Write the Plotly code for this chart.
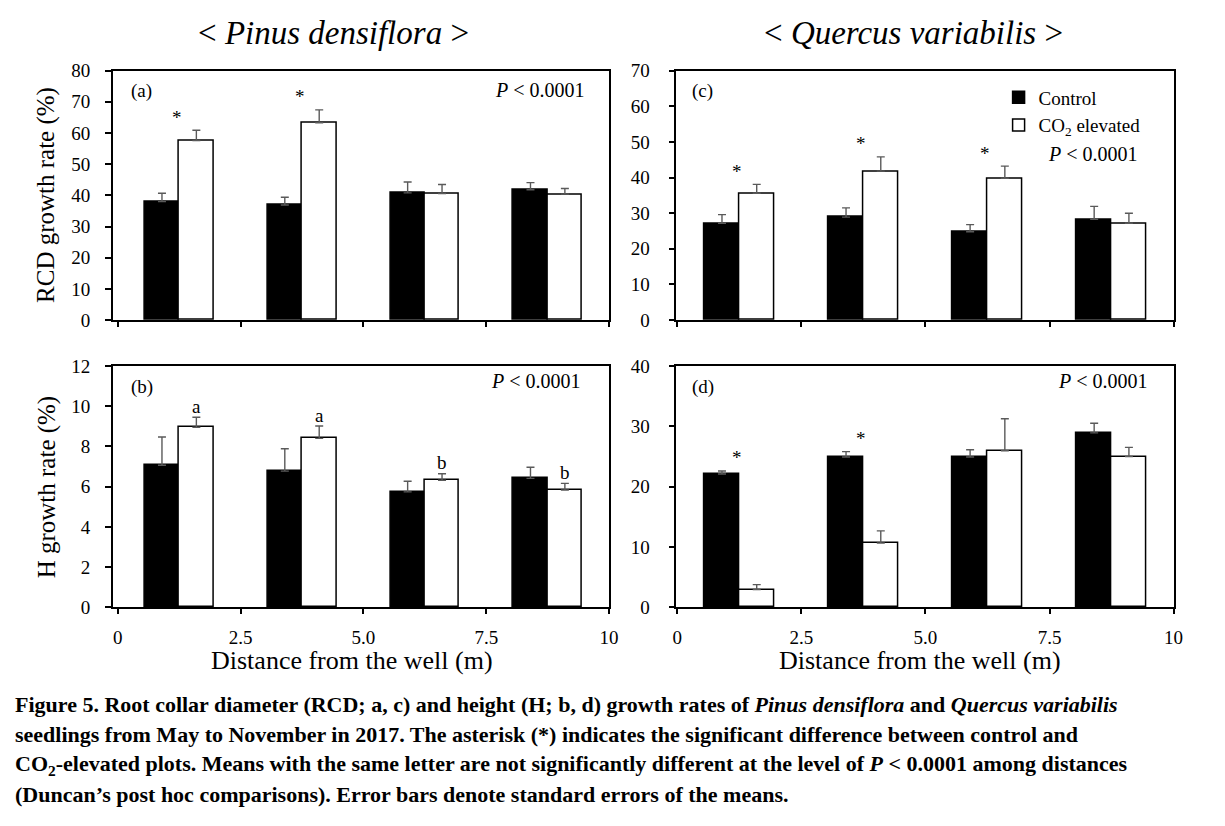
import plotly.graph_objects as go

# ---------------- data ----------------
distance = [1.25, 3.75, 6.25, 8.75]
x_tickvals = [0, 2.5, 5.0, 7.5, 10]
x_ticktext = ["0", "2.5", "5.0", "7.5", "10"]

# (a) Pinus densiflora, RCD growth rate (%)
pinus_rcd_control = [38.0, 36.9, 40.8, 41.8]
pinus_rcd_control_se = [2.7, 2.5, 3.5, 2.3]
pinus_rcd_elevated = [57.6, 63.3, 40.6, 40.4]
pinus_rcd_elevated_se = [3.3, 4.1, 2.9, 1.8]
pinus_rcd_star = [True, True, False, False]

# (b) Pinus densiflora, H growth rate (%)
pinus_h_control = [7.06, 6.77, 5.74, 6.41]
pinus_h_control_se = [1.41, 1.11, 0.53, 0.55]
pinus_h_elevated = [8.95, 8.40, 6.32, 5.83]
pinus_h_elevated_se = [0.50, 0.61, 0.32, 0.33]
pinus_h_letters = ["a", "a", "b", "b"]

# (c) Quercus variabilis, RCD growth rate (%)
quercus_rcd_control = [27.2, 28.9, 24.8, 28.3]
quercus_rcd_control_se = [2.4, 2.6, 2.0, 3.6]
quercus_rcd_elevated = [35.6, 41.8, 39.8, 27.2]
quercus_rcd_elevated_se = [2.5, 4.0, 3.4, 2.8]
quercus_rcd_star = [True, True, True, False]

# (d) Quercus variabilis, H growth rate (%)
quercus_h_control = [22.1, 24.9, 24.9, 28.9]
quercus_h_control_se = [0.5, 0.9, 1.2, 1.6]
quercus_h_elevated = [2.96, 10.66, 25.95, 25.0]
quercus_h_elevated_se = [0.8, 2.0, 5.3, 1.5]
quercus_h_star = [True, True, False, False]

panel_labels = ["(a)", "(b)", "(c)", "(d)"]
p_text = "<i>P</i> &lt; 0.0001"
y_ranges = [[0, 80], [0, 12], [0, 70], [0, 40]]
y_dticks = [10, 2, 10, 10]

caption_lines = [
    "Figure 5. Root collar diameter (RCD; a, c) and height (H; b, d) growth rates of <i>Pinus densiflora</i> and <i>Quercus variabilis</i>",
    "seedlings from May to November in 2017. The asterisk (*) indicates the significant difference between control and",
    "CO<sub>2</sub>-elevated plots. Means with the same letter are not significantly different at the level of <i>P</i> &lt; 0.0001 among distances",
    "(Duncan\u2019s post hoc comparisons). Error bars denote standard errors of the means.",
]

# ---------------- layout helpers ----------------
W, H = 1225, 826
FONT = "Liberation Serif"
OFF = 8  # page body margin offset


def px(x):
    return (x - OFF) / W


def py(y):
    return 1 - (y - OFF) / H


def txt(text, x, y, size, xanchor="center", yanchor="middle", **kw):
    d = dict(text=text, x=px(x), y=py(y), xref="paper", yref="paper",
             xanchor=xanchor, yanchor=yanchor, showarrow=False,
             font=dict(family=FONT, size=size, color="black"))
    d.update(kw)
    return d


fig = go.Figure()

panels = [
    ("", pinus_rcd_control, pinus_rcd_control_se, pinus_rcd_elevated, pinus_rcd_elevated_se),
    ("2", pinus_h_control, pinus_h_control_se, pinus_h_elevated, pinus_h_elevated_se),
    ("3", quercus_rcd_control, quercus_rcd_control_se, quercus_rcd_elevated, quercus_rcd_elevated_se),
    ("4", quercus_h_control, quercus_h_control_se, quercus_h_elevated, quercus_h_elevated_se),
]

BAR_W = 0.7
for i, (sfx, c, cse, e, ese) in enumerate(panels):
    show = (i == 2)
    fig.add_trace(go.Bar(
        x=distance, y=c, width=BAR_W, offset=-BAR_W,
        marker=dict(color="black", line=dict(color="black", width=1.5)),
        error_y=dict(type="data", array=cse, arrayminus=[0] * len(cse), symmetric=False,
                     color="#5a5a5a", thickness=1.4, width=4),
        name="Control", legendgroup="c", showlegend=show,
        xaxis="x" + sfx, yaxis="y" + sfx,
    ))
    fig.add_trace(go.Bar(
        x=distance, y=e, width=BAR_W, offset=0,
        marker=dict(color="white", line=dict(color="black", width=1.5)),
        error_y=dict(type="data", array=ese, arrayminus=[0] * len(ese), symmetric=False,
                     color="#5a5a5a", thickness=1.4, width=4),
        name="CO<sub>2</sub> elevated", legendgroup="e", showlegend=show,
        xaxis="x" + sfx, yaxis="y" + sfx,
    ))

left_dom = [px(110), px(612)]
right_dom = [px(680), px(1183)]
top_dom = [py(318), py(62)]
bot_dom = [py(612.7), py(365)]

axis_common = dict(showline=True, linecolor="black", linewidth=1.5, mirror=True,
                   showgrid=False, zeroline=False, ticks="outside", ticklen=6,
                   tickwidth=1.5, tickcolor="black",
                   tickfont=dict(family=FONT, size=19, color="black"))

layout_axes = {}
specs = [
    ("", left_dom, top_dom, [-0.1, 10], False, 0),
    ("2", left_dom, bot_dom, [-0.1, 10], True, 1),
    ("3", right_dom, top_dom, [-0.02, 10], False, 2),
    ("4", right_dom, bot_dom, [-0.02, 10], True, 3),
]
for sfx, xd, yd, xr, show_lbl, k in specs:
    xa = dict(axis_common)
    xa.update(domain=xd, range=xr, anchor="y" + sfx, tickmode="array",
              tickvals=x_tickvals, ticktext=x_ticktext, showticklabels=show_lbl,
              ticklen=5, ticklabelstandoff=7, fixedrange=True)
    ya = dict(axis_common)
    ya.update(domain=yd, range=y_ranges[k], dtick=y_dticks[k], tick0=0,
              anchor="x" + sfx, ticklabelstandoff=11 if k < 2 else 15, fixedrange=True)
    layout_axes["xaxis" + sfx] = xa
    layout_axes["yaxis" + sfx] = ya

annotations = []

# species titles
annotations.append(txt("&lt; <i>Pinus densiflora</i> &gt;", 333, 23, 33))
annotations.append(txt("&lt; <i>Quercus variabilis</i> &gt;", 920, 23, 33))

# y-axis titles
annotations.append(txt("RCD growth rate (%)", 43, 190, 25, textangle=-90))
annotations.append(txt("H growth rate (%)", 43, 489, 25, textangle=-90))

# x-axis titles
for cx in (352, 926):
    annotations.append(txt("Distance from the well (m)", cx, 667, 26))

# panel labels
for lbl, (lx, ly) in zip(panel_labels, [(126, 83), (126, 387), (694, 83), (694, 387)]):
    annotations.append(txt(lbl, lx, ly, 19, xanchor="left"))

# P values
for (xx, yy, anc) in [(590, 82, "right"), (586, 380, "right"), (1102, 148, "center"), (1159, 380, "right")]:
    annotations.append(txt(p_text, xx, yy, 20, xanchor=anc))


def star_marks(sfx, flags, c, cse, e, ese):
    for j, f in enumerate(flags):
        if f:
            top = max(c[j] + cse[j], e[j] + ese[j])
            annotations.append(dict(text="*", x=distance[j] - 0.05, y=top, xref="x" + sfx, yref="y" + sfx,
                                    xanchor="center", yanchor="middle", yshift=13, showarrow=False,
                                    font=dict(family=FONT, size=19, color="black")))


star_marks("", pinus_rcd_star, pinus_rcd_control, pinus_rcd_control_se, pinus_rcd_elevated, pinus_rcd_elevated_se)
star_marks("3", quercus_rcd_star, quercus_rcd_control, quercus_rcd_control_se, quercus_rcd_elevated, quercus_rcd_elevated_se)
star_marks("4", quercus_h_star, quercus_h_control, quercus_h_control_se, quercus_h_elevated, quercus_h_elevated_se)

for j, letter in enumerate(pinus_h_letters):
    annotations.append(dict(text=letter, x=distance[j] + BAR_W / 2, y=pinus_h_elevated[j] + pinus_h_elevated_se[j],
                            xref="x2", yref="y2", xanchor="center", yanchor="middle", yshift=11, showarrow=False,
                            font=dict(family=FONT, size=19, color="black")))

# caption
for line, yy in zip(caption_lines, [712, 743.5, 774.5, 805]):
    annotations.append(txt("<b>" + line + "</b>", 9, yy, 22, xanchor="left"))

fig.update_layout(
    width=W, height=H,
    margin=dict(l=0, r=0, t=0, b=0),
    paper_bgcolor="white", plot_bgcolor="white",
    barmode="overlay",
    bargap=0,
    showlegend=True,
    legend=dict(x=px(1006), y=py(70), xanchor="left", yanchor="top",
                bgcolor="rgba(0,0,0,0)", borderwidth=0,
                font=dict(family=FONT, size=19, color="black"),
                itemclick=False, itemdoubleclick=False, tracegroupgap=0),
    annotations=annotations,
    **layout_axes,
)

fig.write_html("out.html")
